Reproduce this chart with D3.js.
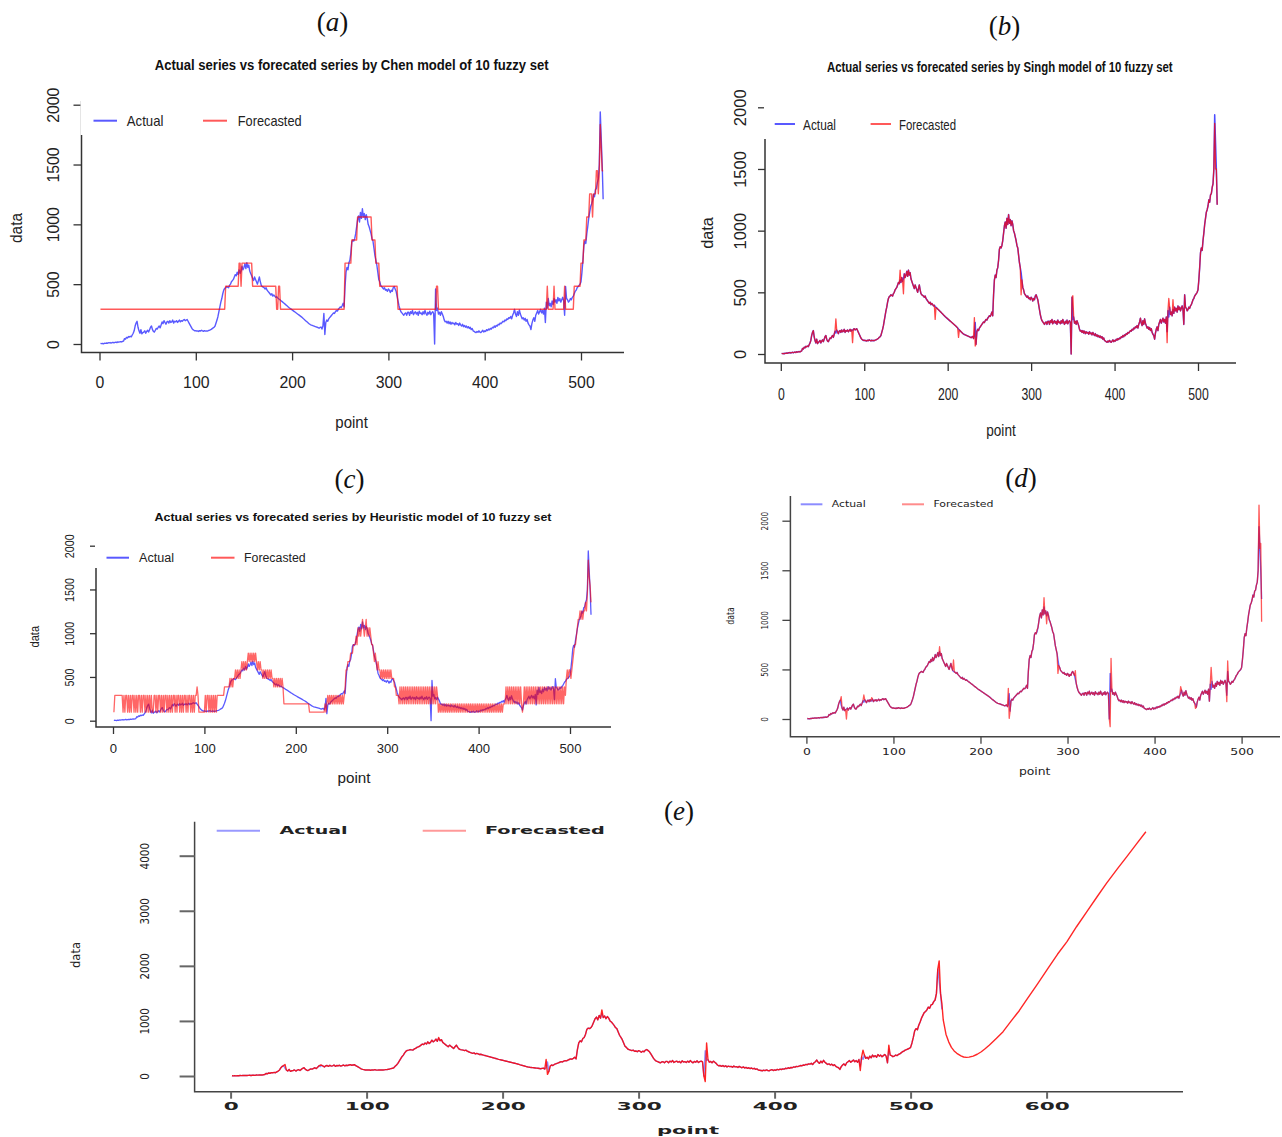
<!DOCTYPE html>
<html>
<head>
<meta charset="utf-8">
<script src="https://cdn.jsdelivr.net/npm/d3@7"></script>
<style>
  body { margin: 0; background: #fff; }
  svg { display: block; }
</style>
</head>
<body>
<svg id="fig" width="1282" height="1137"></svg>
<script>
// ---- observed series (point 1..523) ----
const actual = [
  5,3,4,2,6,5,8,6,10,9,
  12,8,11,14,10,13,16,12,18,15,
  18,20,17,22,25,45,40,55,50,62,
  58,65,60,75,90,110,150,175,190,140,
  110,90,120,85,95,100,110,90,105,115,
  100,120,140,150,120,105,100,115,130,125,
  140,150,135,160,185,170,195,180,165,185,
  190,175,195,180,185,200,175,190,185,195,
  180,190,200,185,195,190,200,205,195,200,
  205,190,175,160,145,130,120,115,110,112,
  108,110,105,112,108,115,110,106,112,108,
  110,108,112,115,118,122,128,135,140,150,
  175,200,230,270,310,350,380,420,450,465,
  470,480,475,470,490,500,520,530,540,560,
  580,570,600,580,620,590,610,650,620,640,
  670,630,680,640,660,610,590,570,550,530,
  560,540,520,500,530,560,520,490,480,475,
  470,460,470,450,440,430,420,410,420,400,
  410,400,390,395,385,378,372,365,358,352,
  345,338,331,324,317,310,303,297,291,285,
  279,273,267,261,255,249,243,237,231,225,
  218,210,202,195,188,181,174,167,162,158,
  155,152,149,146,143,140,136,132,138,142,
  125,150,255,80,180,200,190,210,220,230,
  240,250,260,255,270,280,275,290,300,310,
  305,320,340,310,480,600,640,620,680,700,
  760,850,870,860,880,920,980,1040,1070,1020,
  1100,1050,1130,1060,1090,1040,1080,1050,1000,980,
  950,920,880,860,800,740,700,660,600,540,
  520,490,480,470,460,470,450,455,440,460,
  450,430,450,440,470,480,460,440,400,360,
  320,290,270,260,250,240,255,260,240,265,
  265,240,270,255,280,245,260,270,250,265,
  240,275,255,260,245,270,250,280,255,240,
  265,250,275,245,260,270,255,0,460,280,
  300,250,265,240,270,250,230,200,185,190,
  175,190,170,185,165,180,170,175,160,180,
  165,170,155,175,160,150,165,145,155,140,
  150,135,145,130,140,120,130,110,105,100,
  95,105,98,110,100,95,105,115,100,110,
  105,120,112,125,118,130,125,140,135,150,
  140,155,150,165,160,175,170,180,190,185,
  200,195,210,205,220,215,230,210,240,260,
  290,250,230,270,240,285,250,230,210,220,
  200,215,190,205,175,160,150,120,170,200,
  220,190,240,260,280,250,270,290,260,280,
  250,300,180,350,300,380,320,340,310,360,
  330,380,350,370,340,390,360,380,350,370,
  390,360,240,480,380,370,350,360,380,370,
  390,400,420,440,450,470,480,490,500,520,
  600,700,820,860,840,920,980,1050,1100,1150,
  1170,1200,1250,1230,1290,1300,1350,1380,1500,1940,
  1720,1500,1210
];

// Chen model forecast: [first point, forecast level] runs
const chenRuns = [
  [1,290],[131,483],[145,676],[147,483],[148,676],[159,483],[184,290],[186,483],[188,290],
  [255,676],[262,869],[268,1062],[283,869],[287,676],[291,483],[310,290],[350,483],[352,290],
  [465,483],[466,290],[472,483],[473,290],[483,483],[484,290],[493,483],[500,676],[503,869],
  [506,1062],[509,1255],[512,1062],[513,1255],[516,1448],[518,1255],[519,1448],[520,1834],
  [521,1641],[522,1448]
];

// Heuristic model forecast: level table and per-point level codes (base 36), [first point, codes]
const heurLevels = [97,193,290,387,483,580,676,773,869,966,1062,1159,1255,1352,1448,1545,1641,1738,1834];
const heurCodes = [
  [1,   "022222222"],
  [10,  "2020220202 0220202022 0202202020 2020022020 2202020220 2020202202 0220202022 0202202020"],
  [90,  "2232000000"],
  [100, "0202202020 2020222"],
  [117, "2222233333"],
  [127, "3434344545"],
  [137, "4545656565"],
  [147, "6767676767"],
  [157, "6565655454"],
  [167, "5454545443"],
  [177, "4343434343"],
  [187, "1111111111 1111111111 11111111"],
  [215, "0000000000 00000"],
  [230, "0010121212 1212121212 12123"],
  [255, "5566677788"],
  [265, "898a9a9aba"],
  [275, "9ab9a9a988"],
  [285, "7676565545"],
  [295, "4545454545"],
  [305, "44433222"],
  [313, "1313131313 1313131313 1313131313 1313131313132"],
  [356, "0101010101 0101010101 0101010101 0101010101 0101010101 0101010101 0101010101011"],
  [429, "1313131313 1313131310 1313131313 1313131313 1313131313 1313131313 1313132"],
  [496, "4545545"],
  [503, "67889"],
  [508, "abbcbcbcc"],
  [517, "dceigfd"]
];

// Singh model forecast departures from the observed series: [point, value]
const singhForecastDiff = [
  [66,285],[86,92],[143,680],[147,488],[185,280],[213,135],[232,295],[233,65],
  [288,480],[350,472],[463,92],[465,450],[470,440],[520,1870],[521,1500]
];

// Panel (d) forecast departures: [point, value]
const modelDForecastDiff = [
  [40,225],[46,0],[66,242],[75,215],[153,729],[169,595],[232,309],[233,7],[265,900],
  [273,1223],[276,960],[289,460],[309,487],[349,-77],[350,612],[430,326],[447,108],
  [465,521],[483,175],[484,585],[520,2158],[522,1771],[523,981]
];

// Panel (e) forecast departures and out-of-sample continuation: [point, value]
const modelEForecastDiff = [
  [40,210],[66,200],[153,700],[232,300],[233,30],[273,1200],[349,-100],[350,600],
  [463,100],[465,470],[484,560],[521,2090],[523,1320]
];
const modelEForecastAhead = [
  [524,1017],[526,760],[528,620],[530,520],[532,455],[534,412],[537,365],[539,345],
  [541,339],[543,342],[546,362],[549,395],[552,440],[555,500],[558,563],[563,683],
  [568,805],[574,1000],[580,1190],[586,1410],[593,1660],[601,1955],[608,2210],
  [615,2440],[622,2710],[630,3000],[637,3250],[644,3498],[652,3760],[659,3982],
  [666,4210],[673,4435]
];

// ---- axis ticks and texts ----
const xTicks500 = [0,100,200,300,400,500];
const xTicks600 = [0,100,200,300,400,500,600];
const yTicks2000 = [0,500,1000,1500,2000];
const yTicks4000 = [0,1000,2000,3000,4000];
const legendLabels = ["Actual", "Forecasted"];
const titleChen = "Actual series vs forecated series by Chen model of 10 fuzzy set";
const titleSingh = "Actual series vs forecated series by Singh model of 10 fuzzy set";
const titleHeur = "Actual series vs forecated series by Heuristic model of 10 fuzzy set";
const xName = "point", yName = "data";

// ---- series builders ----
const actualPts = actual.map((v, i) => [i + 1, v]);
function fromRuns(runs, n) {
  const out = []; let k = 0;
  for (let i = 1; i <= n; i++) {
    while (k + 1 < runs.length && runs[k + 1][0] <= i) k++;
    out.push([i, runs[k][1]]);
  }
  return out;
}
function fromCodes(segs, levels) {
  const m = new Map();
  segs.forEach(([s, str]) => {
    str.replace(/\s/g, "").split("").forEach((c, j) => m.set(s + j, levels[parseInt(c, 36)]));
  });
  return [...m.keys()].sort((a, b) => a - b).map(i => [i, m.get(i)]);
}
function withDiff(base, diff) {
  const m = new Map(diff);
  return base.map(([i, v]) => [i, m.has(i) ? m.get(i) : v]);
}
const chenPts = fromRuns(chenRuns, actual.length);
const heurPts = fromCodes(heurCodes, heurLevels);
const singhPts = withDiff(actualPts, singhForecastDiff);
const modelDPts = withDiff(actualPts, modelDForecastDiff);
const modelEPts = withDiff(actualPts, modelEForecastDiff).concat(modelEForecastAhead);

// ---- fonts ----
const SANS = "'Liberation Sans', Arial, sans-serif";
const NARROW = "'Liberation Sans Narrow', 'Liberation Sans', Arial, sans-serif";
const WIDE = "'DejaVu Sans', Verdana, sans-serif";
const SERIF = "'Liberation Serif', 'DejaVu Serif', serif";

const svg = d3.select("#fig");

function txt(g, s, x, y, o) {
  const t = g.append("text")
    .attr("x", x).attr("y", y)
    .attr("text-anchor", o.anchor || "middle")
    .attr("dominant-baseline", "central")
    .style("font-family", o.fam || SANS)
    .style("font-size", o.size + "px")
    .style("font-weight", o.weight || "normal")
    .attr("fill", o.fill || "#222")
    .text(s);
  if (o.len) t.attr("textLength", o.len).attr("lengthAdjust", "spacingAndGlyphs");
  if (o.rotate) t.attr("transform", `rotate(-90 ${x} ${y})`);
  return t;
}

function panelTag(letter, p) {
  const t = svg.append("text")
    .attr("x", p.x).attr("y", p.y)
    .attr("text-anchor", "middle").attr("dominant-baseline", "central")
    .style("font-family", SERIF).style("font-size", (p.size || 27) + "px")
    .attr("fill", "#111");
  t.append("tspan").text("(");
  t.append("tspan").style("font-style", "italic").text(letter);
  t.append("tspan").text(")");
  if (p.len) t.attr("textLength", p.len).attr("lengthAdjust", "spacingAndGlyphs");
}

function drawPanel(c) {
  const g = svg.append("g");
  const x = d3.scaleLinear().domain([c.xMap[0], c.xMap[1]]).range([c.xMap[2], c.xMap[3]]);
  const y = d3.scaleLinear().domain([c.yMap[0], c.yMap[1]]).range([c.yMap[2], c.yMap[3]]);
  const line = d3.line().x(d => x(d[0])).y(d => y(d[1]));

  // series
  c.series.forEach(s => {
    g.append("path").datum(s.data)
      .attr("d", line)
      .attr("fill", "none")
      .attr("stroke", s.color)
      .attr("stroke-opacity", s.op)
      .attr("stroke-width", s.w)
      .attr("stroke-linejoin", "round");
  });

  // L-shaped frame
  const b = c.box;
  g.append("path")
    .attr("d", `M${b.l},${b.t}V${b.b}H${b.r}`)
    .attr("fill", "none").attr("stroke", c.axisColor).attr("stroke-width", c.axisW || 1.5);

  // x axis
  const gx = g.append("g").attr("transform", `translate(0,${b.b})`)
    .call(d3.axisBottom(x).tickValues(c.xTicks).tickSize(c.tickLenX).tickFormat(d3.format("d")));
  gx.select(".domain").remove();
  gx.selectAll(".tick line").attr("stroke", c.tickColor).attr("stroke-width", c.tickW || 1.3);
  gx.selectAll(".tick text")
    .attr("y", c.xLabY - b.b).attr("dy", null)
    .attr("dominant-baseline", "central")
    .attr("fill", "#222")
    .style("font-family", c.tickFam).style("font-size", c.tickSize + "px")
    .style("font-weight", c.tickWeight || "normal")
    .each(function (d) {
      d3.select(this).attr("textLength", String(d).length * c.charX).attr("lengthAdjust", "spacingAndGlyphs");
    });

  // y axis, labels parallel to the axis
  const gy = g.append("g").attr("transform", `translate(${b.l},0)`)
    .call(d3.axisLeft(y).tickValues(c.yTicks).tickSize(c.tickLenY).tickFormat(d3.format("d")));
  gy.select(".domain").remove();
  gy.selectAll(".tick line").attr("stroke", c.tickColor).attr("stroke-width", c.tickW || 1.3);
  gy.selectAll(".tick text")
    .attr("x", 0).attr("dy", null)
    .attr("text-anchor", "middle")
    .attr("dominant-baseline", "central")
    .attr("transform", `translate(${c.yLabX - b.l},0) rotate(-90)`)
    .attr("fill", "#222")
    .style("font-family", c.tickFam).style("font-size", (c.yTickSize || c.tickSize) + "px")
    .style("font-weight", c.yTickWeight || c.tickWeight || "normal")
    .each(function (d) {
      d3.select(this).attr("textLength", String(d).length * c.charY).attr("lengthAdjust", "spacingAndGlyphs");
    });

  // titles
  if (c.title) txt(g, c.title.text, c.title.x, c.title.y, { fam: c.title.fam, size: c.title.size, len: c.title.len, weight: "bold", fill: "#111" });
  txt(g, xName, c.xTitle.x, c.xTitle.y, { fam: c.xTitle.fam, size: c.xTitle.size, len: c.xTitle.len, fill: "#222", weight: c.xTitle.weight });
  txt(g, yName, c.yTitle.x, c.yTitle.y, { fam: c.yTitle.fam, size: c.yTitle.size, len: c.yTitle.len, fill: "#222", rotate: true, weight: c.yTitle.weight });

  // legend
  const L = c.legend;
  if (L.bg) {
    g.append("rect").attr("x", L.bg[0]).attr("y", L.bg[2])
      .attr("width", L.bg[1] - L.bg[0]).attr("height", L.bg[3] - L.bg[2]).attr("fill", "#fff");
  }
  legendLabels.forEach((lab, k) => {
    const it = L.items[k];
    g.append("line").attr("x1", it[0]).attr("x2", it[1]).attr("y1", L.y).attr("y2", L.y)
      .attr("stroke", c.series[k].color).attr("stroke-opacity", L.op || 0.65).attr("stroke-width", L.lw || 2);
    txt(g, lab, it[2], L.y, { anchor: "start", fam: L.fam, size: L.size, len: it[3], fill: "#222", weight: L.weight });
  });

  panelTag(c.id, c.tag);
}

const BLUE = "#0000ff", RED = "#ff0000";

drawPanel({
  id: "a",
  xMap: [0, 500, 99.5, 581], yMap: [0, 2000, 344, 104.7],
  box: { l: 81.5, r: 624, t: 101, b: 352.5 },
  xTicks: xTicks500, yTicks: yTicks2000,
  tickLenX: 8, tickLenY: 8, tickColor: "#333", axisColor: "#333",
  xLabY: 382.7, yLabX: 53, tickFam: SANS, tickSize: 16, charX: 8.8, charY: 8.75,
  tag: { x: 332.5, y: 22 },
  title: { text: titleChen, x: 351.7, y: 65, size: 14, len: 394, fam: NARROW },
  xTitle: { x: 351.6, y: 422.7, size: 16, len: 32.5, fam: SANS },
  yTitle: { x: 16, y: 228, size: 16, len: 30, fam: SANS },
  legend: { y: 120.7, bg: [80.5, 312, 100, 135], items: [[93.5, 117, 126.8, 36.6], [203, 227, 237.8, 63.8]], size: 15, fam: NARROW },
  series: [
    { data: actualPts, color: BLUE, op: 0.65, w: 1.4 },
    { data: chenPts, color: RED, op: 0.65, w: 1.4 }
  ]
});

drawPanel({
  id: "b",
  xMap: [0, 500, 780.8, 1198], yMap: [0, 2000, 354, 107.3],
  box: { l: 765, r: 1236, t: 105, b: 363 },
  xTicks: xTicks500, yTicks: yTicks2000,
  tickLenX: 8, tickLenY: 7, tickColor: "#333", axisColor: "#333",
  xLabY: 394.3, yLabX: 740, tickFam: NARROW, tickSize: 16, charX: 6.8, charY: 9.2,
  tag: { x: 1004.5, y: 26 },
  title: { text: titleSingh, x: 999.8, y: 66.7, size: 14, len: 345.6, fam: NARROW },
  xTitle: { x: 1001, y: 430, size: 16, len: 29.4, fam: NARROW },
  yTitle: { x: 707, y: 233, size: 16, len: 31.7, fam: SANS },
  legend: { y: 124, bg: [764, 975, 104, 139], items: [[774.7, 795, 803, 33], [870.6, 891, 899, 57]], size: 15, fam: NARROW },
  series: [
    { data: actualPts, color: BLUE, op: 0.7, w: 1.5 },
    { data: singhPts, color: RED, op: 0.72, w: 1.3 }
  ]
});

drawPanel({
  id: "c",
  xMap: [0, 500, 113, 570], yMap: [0, 2000, 720.7, 545.7],
  box: { l: 96, r: 611, t: 543, b: 727 },
  xTicks: xTicks500, yTicks: yTicks2000,
  tickLenX: 7, tickLenY: 6, tickColor: "#333", axisColor: "#333",
  xLabY: 748, yLabX: 69, tickFam: SANS, tickSize: 13, charX: 7.3, charY: 6.0,
  tag: { x: 349.6, y: 479 },
  title: { text: titleHeur, x: 353, y: 516.7, size: 11, len: 397, fam: SANS },
  xTitle: { x: 354, y: 778, size: 14, len: 33, fam: SANS },
  yTitle: { x: 34.5, y: 636.7, size: 13, len: 21.7, fam: SANS },
  legend: { y: 557.7, bg: [95, 320, 542, 568], items: [[106.5, 129, 139, 35], [211, 234.5, 244, 61.7]], size: 12, fam: SANS },
  series: [
    { data: actualPts, color: BLUE, op: 0.65, w: 1.3 },
    { data: heurPts, color: RED, op: 0.6, w: 1.3 }
  ]
});

drawPanel({
  id: "d",
  xMap: [0, 500, 806.4, 1241.6], yMap: [0, 2000, 719, 520.7],
  box: { l: 790.4, r: 1280, t: 496, b: 736.7 },
  xTicks: xTicks500, yTicks: yTicks2000,
  tickLenX: 7, tickLenY: 8, tickColor: "#444", axisColor: "#444",
  xLabY: 751.7, yLabX: 764, tickFam: WIDE, tickSize: 9.5, charX: 7.9, charY: 4.6,
  tag: { x: 1021, y: 478 },
  title: null,
  xTitle: { x: 1034.7, y: 771.7, size: 10, len: 31.6, fam: WIDE },
  yTitle: { x: 730, y: 616, size: 10, len: 17.3, fam: WIDE },
  legend: { y: 504.3, bg: null, items: [[800.7, 822.4, 831.8, 34], [902, 924, 933.4, 60]], size: 8.5, fam: WIDE, op: 0.45 },
  series: [
    { data: actualPts, color: BLUE, op: 0.6, w: 1.4 },
    { data: modelDPts, color: RED, op: 0.65, w: 1.3 }
  ]
});

drawPanel({
  id: "e",
  xMap: [0, 600, 230.6, 1046.6], yMap: [0, 4000, 1076, 855.7],
  box: { l: 194.6, r: 1183, t: 821.7, b: 1091.7 },
  xTicks: xTicks600, yTicks: yTicks4000,
  tickLenX: 7, tickLenY: 15, tickColor: "#666", axisColor: "#444", tickW: 2,
  xLabY: 1106.7, yLabX: 145, tickFam: WIDE, tickSize: 10, tickWeight: "bold", charX: 15,
  yTickSize: 12, yTickWeight: "normal", charY: 6.6,
  tag: { x: 679, y: 811, len: 30 },
  title: null,
  xTitle: { x: 688, y: 1130, size: 11, len: 62, fam: WIDE, weight: "bold" },
  yTitle: { x: 75, y: 955, size: 13, len: 26, fam: WIDE },
  legend: { y: 830.7, bg: null, items: [[216.7, 260, 279.6, 68], [422.7, 466, 484.9, 120]], size: 10, fam: WIDE, weight: "bold", op: 0.4 },
  series: [
    { data: actualPts, color: BLUE, op: 0.45, w: 1.4 },
    { data: modelEPts, color: RED, op: 0.85, w: 1.4 }
  ]
});
</script>
</body>
</html>
